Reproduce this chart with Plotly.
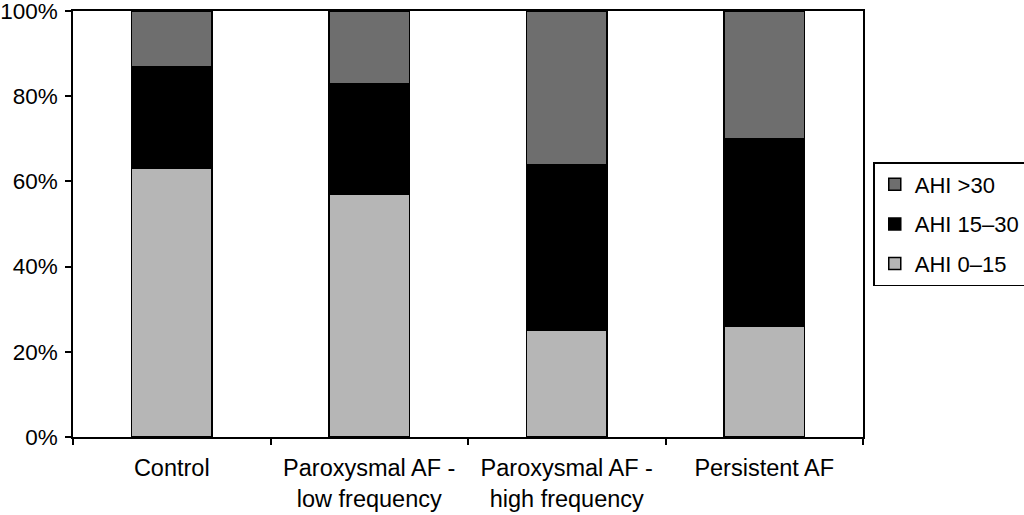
import plotly.graph_objects as go

categories = ["Control", "Paroxysmal AF -<br>low frequency", "Paroxysmal AF -<br>high frequency", "Persistent AF"]
ahi_0_15 = [63, 57, 25, 26]
ahi_15_30 = [24, 26, 39, 44]
ahi_over_30 = [13, 17, 36, 30]
y_ticks = [0, 20, 40, 60, 80, 100]
y_tick_labels = ["0%", "20%", "40%", "60%", "80%", "100%"]

series = [
    ("AHI 0\u201315", ahi_0_15, "#b6b6b6", 3),
    ("AHI 15\u201330", ahi_15_30, "#000000", 2),
    ("AHI >30", ahi_over_30, "#6e6e6e", 1),
]

fig = go.Figure()
for i, (name, vals, col, rank) in enumerate(series):
    fig.add_trace(go.Bar(
        x=categories, y=vals, name=name, legendgroup=f"g{i}", legendrank=rank,
        marker=dict(color=col, line=dict(color="black", width=1.5)),
        width=0.41,
    ))

family = "Liberation Sans, Arial, sans-serif"
xfont = dict(family=family, size=23.5, color="black")
yfont = dict(family=family, size=22.5, color="black")
legend_font = dict(family=family, size=22, color="black")
fig.update_layout(
    barmode="stack",
    width=1024, height=515,
    margin=dict(l=73, r=161, t=11, b=78, autoexpand=False),
    paper_bgcolor="white", plot_bgcolor="white",
    font=yfont,
    showlegend=True,
    legend=dict(
        traceorder="grouped", tracegroupgap=8,
        x=1.013, xanchor="left", y=0.5, yanchor="middle",
        bordercolor="black", borderwidth=1.5, bgcolor="white",
        font=legend_font, itemwidth=30,
    ),
    bargap=0.59,
)
fig.update_xaxes(
    showline=True, linecolor="black", linewidth=1.5, mirror=True,
    ticks="outside", tickson="boundaries", ticklen=6, tickcolor="black", tickwidth=1.5,
    showgrid=False, tickfont=xfont, automargin=False, ticklabeloverflow="allow",
    ticklabelstandoff=9,
)
fig.update_yaxes(
    range=[0, 100], tickvals=y_ticks, ticktext=y_tick_labels,
    showline=True, linecolor="black", linewidth=1.5, mirror=True,
    ticks="outside", ticklen=6, tickcolor="black", tickwidth=1.5,
    showgrid=False, zeroline=False, tickfont=yfont, automargin=False,
    ticklabeloverflow="allow", ticklabelstandoff=3,
)
fig.write_html(
    "out.html",
    config={"displayModeBar": False},
    post_script="document.body.style.margin='0';document.body.style.overflow='hidden';",
)
